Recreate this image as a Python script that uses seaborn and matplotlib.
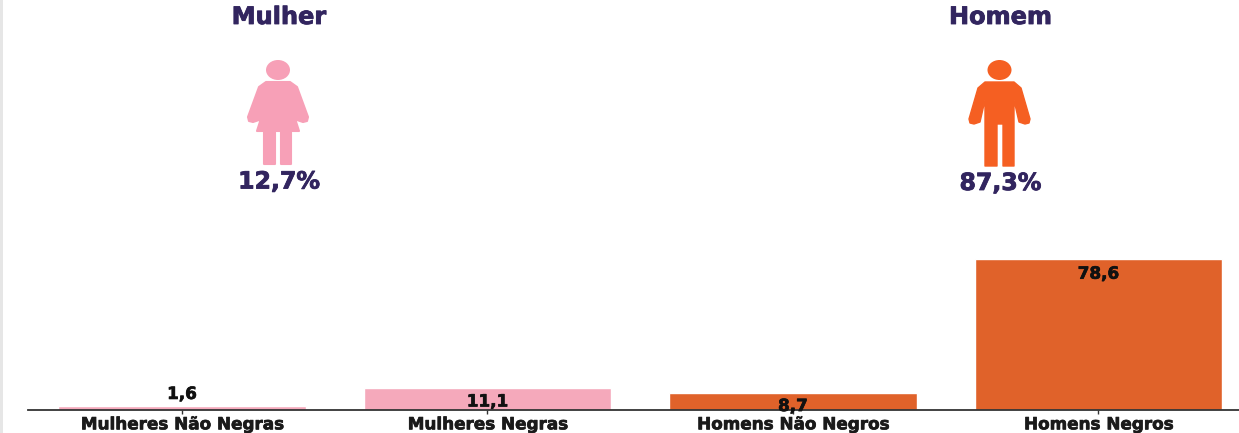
import matplotlib
matplotlib.use("Agg")
import matplotlib.pyplot as plt
import matplotlib.patheffects as pe
import seaborn as sns
import pandas as pd
from matplotlib.patches import Polygon, Ellipse, Rectangle
from matplotlib.transforms import Affine2D

categories = ["Mulheres Não Negras", "Mulheres Negras", "Homens Não Negros", "Homens Negros"]
values = [1.6, 11.1, 8.7, 78.6]
value_labels = ["1,6", "11,1", "8,7", "78,6"]
bar_colors = ["#f5a9bb", "#f5a9bb", "#e0622a", "#e0622a"]
groups = ["Mulher", "Homem"]
group_shares = ["12,7%", "87,3%"]

W, H = 1239, 433
sns.set_theme(style="white")
plt.rcParams['font.family'] = ['DejaVu Sans']
fig = plt.figure(figsize=(W / 100, H / 100), dpi=100, facecolor="white")
ax = fig.add_axes([28 / W, (H - 409.5) / H, (W - 28) / W, 409.5 / H])

df = pd.DataFrame({"cat": categories, "val": values})
sns.barplot(data=df, x="cat", y="val", hue="cat", palette=bar_colors, legend=False,
            width=0.81, dodge=False, ax=ax, saturation=1)
ax.set_xlim(-0.504, 3.46)
ax.set_ylim(0, 214)
ax.set_xlabel("")
ax.set_ylabel("")
ax.set_yticks([])
for s in ["top", "left", "right"]:
    ax.spines[s].set_visible(False)
ax.spines["bottom"].set_color("#333333")
ax.spines["bottom"].set_linewidth(1.3)
ax.tick_params(axis="x", bottom=True, length=3, width=1, color="#333333", pad=1.2)
ax.set_xticks(range(4))
ax.set_xticklabels(categories, fontsize=12.1, fontweight="bold", color="#1a1a1a")


def heavy(color, w=0.5):
    return [pe.withStroke(linewidth=w, foreground=color)]


for t in ax.get_xticklabels():
    t.set_path_effects(heavy("#1a1a1a"))

offsets = [9, -9.5, -9.5, -10.5]
for i, (v, lab, off) in enumerate(zip(values, value_labels, offsets)):
    ax.annotate(lab, (i, v), xytext=(0, off), textcoords="offset points",
                ha="center", va="center", fontsize=12.1, fontweight="bold",
                color="#111111", zorder=5, annotation_clip=False,
                path_effects=heavy("#111111"))

# reference-pixel transform for the header decoration
px = Affine2D().scale(1, -1).translate(0, H)

dark = "#32255f"
for label, share, cx, cy_t, cy_s in zip(groups, group_shares, [279, 1000.5], [17, 17], [181.5, 183]):
    fig.text(cx, cy_t, label, transform=px, ha="center", va="center",
             fontsize=17.3, fontweight="bold", color=dark, path_effects=heavy(dark, 0.6))
    fig.text(cx, cy_s, share, transform=px, ha="center", va="center",
             fontsize=17, fontweight="bold", color=dark, path_effects=heavy(dark, 0.6))

pink = "#f7a0b7"
woman = [(266, 82), (290, 82), (297, 87), (308, 117), (307, 121), (303, 122), (297, 120),
         (289, 100), (299, 131), (291, 131), (291, 164), (281, 164), (281, 131), (275, 131),
         (275, 164), (264, 164), (264, 131), (257, 131), (267, 100), (259, 120), (253, 122),
         (249, 121), (248, 117), (259, 87)]
fig.add_artist(Polygon(woman, closed=True, transform=px, facecolor=pink, edgecolor=pink,
                       lw=1.5, joinstyle="round"))
fig.add_artist(Ellipse((278, 70), 24, 20, transform=px, facecolor=pink, edgecolor="none"))

orange = "#f55f22"
man = [(985, 82), (1014, 82), (1021, 88), (1030, 119), (1029, 123), (1025, 124), (1019, 122),
       (1014, 100), (1014, 166), (1003, 166), (1003, 124), (997, 124), (997, 166), (985, 166),
       (985, 100), (980, 122), (974, 124), (970, 123), (969, 119), (978, 88)]
fig.add_artist(Polygon(man, closed=True, transform=px, facecolor=orange, edgecolor=orange,
                       lw=1, joinstyle="round"))
fig.add_artist(Ellipse((999.5, 70), 24, 20, transform=px, facecolor=orange, edgecolor="none"))

# thin pale strip on the left edge
fig.add_artist(Rectangle((0, 0), 3, H, transform=px, facecolor="#e6e6e6", edgecolor="none"))

fig.savefig("out.png", dpi=100)
